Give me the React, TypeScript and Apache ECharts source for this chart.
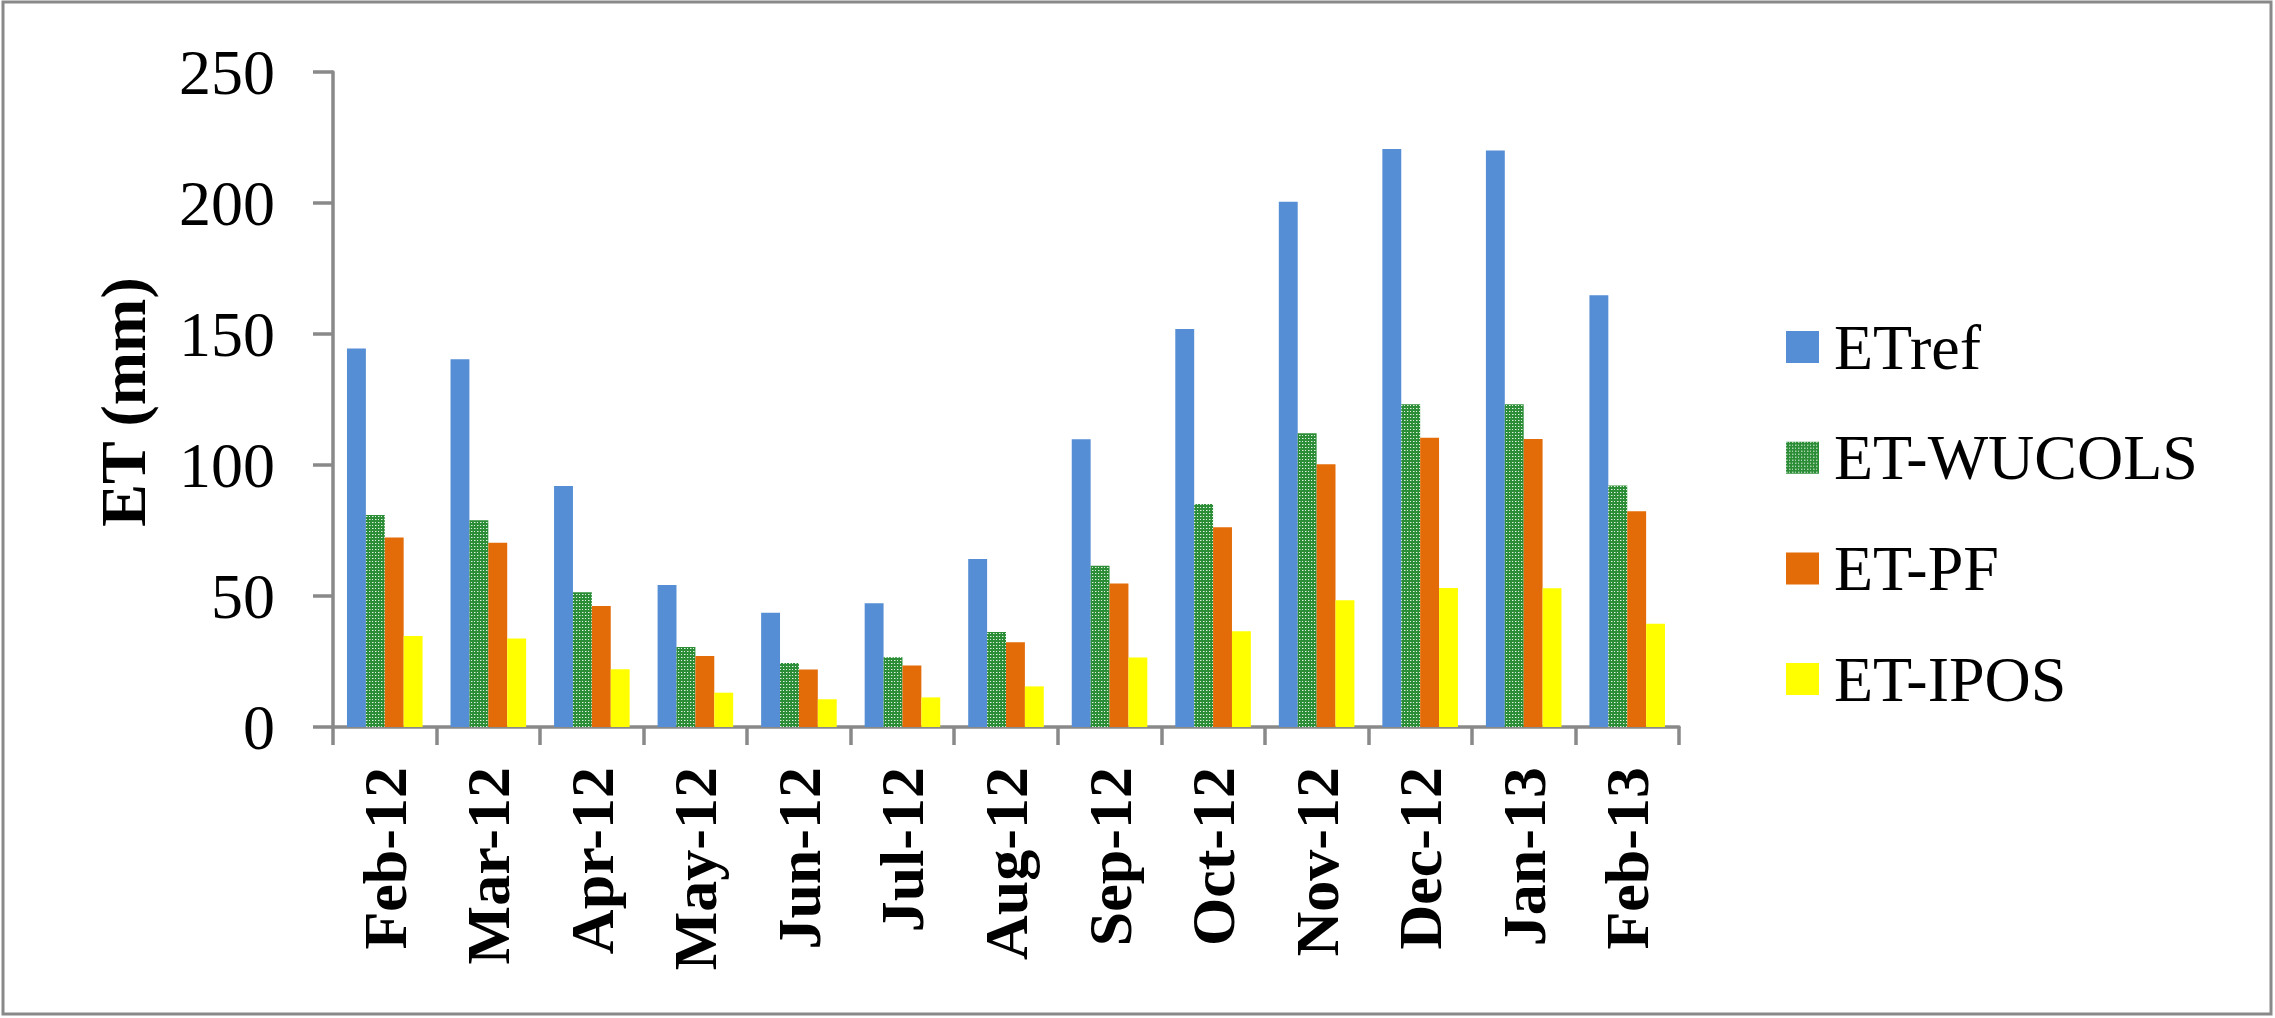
import React, { useEffect, useRef } from "react";
import * as echarts from "echarts";

const categories = ["Feb-12", "Mar-12", "Apr-12", "May-12", "Jun-12", "Jul-12", "Aug-12", "Sep-12", "Oct-12", "Nov-12", "Dec-12", "Jan-13", "Feb-13"];
const seriesNames = ["ETref", "ET-WUCOLS", "ET-PF", "ET-IPOS"];
const etRef = [144.5, 140.4, 92.0, 54.2, 43.6, 47.2, 64.1, 109.8, 151.9, 200.5, 220.6, 220.0, 164.8];
const etWucols = [80.9, 78.9, 51.4, 30.5, 24.4, 26.6, 36.3, 61.5, 85.1, 112.1, 123.2, 123.2, 92.2];
const etPf = [72.3, 70.3, 46.2, 27.1, 21.9, 23.5, 32.3, 54.8, 76.2, 100.3, 110.4, 109.9, 82.3];
const etIpos = [34.7, 33.8, 22.0, 13.1, 10.6, 11.3, 15.5, 26.5, 36.5, 48.4, 53.1, 53.0, 39.4];
const yTicks = { min: 0, max: 250, interval: 50 };

const FONT = "'Liberation Serif', 'Times New Roman', serif";
const AXIS_GRAY = "#898989";

function makePattern() {
  const c = document.createElement("canvas");
  c.width = 6;
  c.height = 6;
  const ctx = c.getContext("2d")!;
  ctx.fillStyle = "#2b8d36";
  ctx.fillRect(0, 0, 6, 6);
  ctx.fillStyle = "rgba(255,255,255,0.85)";
  ctx.fillRect(0, 0, 1, 1);
  ctx.fillRect(3, 0, 1, 1);
  ctx.fillRect(0, 3, 1, 1);
  ctx.fillRect(3, 3, 1, 1);
  ctx.fillStyle = "rgba(255,255,255,0.45)";
  ctx.fillRect(1, 0, 1, 1);
  ctx.fillRect(4, 3, 1, 1);
  return c;
}

export default function App() {
  const ref = useRef<HTMLDivElement>(null);
  useEffect(() => {
    document.body.style.margin = "0";
    const chart = echarts.init(ref.current!, null, { renderer: "svg" });
    const pattern = makePattern();
    const colors: any[] = ["#558ed5", { image: pattern, repeat: "repeat" }, "#e36c09", "#ffff00"];
    const data = [etRef, etWucols, etPf, etIpos];
    chart.setOption({
      animation: false,
      backgroundColor: "#ffffff",
      grid: { left: 333, top: 72, right: 596, bottom: 291, containLabel: false },
      legend: {
        orient: "vertical",
        left: 1781,
        top: 310,
        itemWidth: 33,
        itemHeight: 32,
        itemGap: 46.7,
        icon: "rect",
        textStyle: { fontFamily: FONT, fontSize: 64, color: "#000", lineHeight: 64, padding: [0, 0, 0, 10] },
        data: seriesNames,
      },
      xAxis: {
        type: "category",
        data: categories,
        axisLine: { show: true, lineStyle: { color: AXIS_GRAY, width: 3.5 } },
        axisTick: { show: true, length: 18, lineStyle: { color: AXIS_GRAY, width: 3.5 } },
        axisLabel: {
          rotate: 90,
          margin: 40,
          interval: 0,
          fontFamily: FONT,
          fontWeight: "bold",
          fontSize: 62,
          color: "#000",
        },
        splitLine: { show: false },
      },
      yAxis: {
        type: "value",
        min: yTicks.min,
        max: yTicks.max,
        interval: yTicks.interval,
        axisLine: { show: true, lineStyle: { color: AXIS_GRAY, width: 3.5 } },
        axisTick: { show: true, length: 20, lineStyle: { color: AXIS_GRAY, width: 3.5 } },
        axisLabel: { margin: 58, fontFamily: FONT, fontSize: 64, color: "#000" },
        splitLine: { show: false },
      },
      series: seriesNames.map((name, i) => ({
        name,
        type: "bar",
        data: data[i],
        barGap: "0%",
        barCategoryGap: "27%",
        itemStyle: { color: colors[i] },
      })),
      graphic: [
        {
          type: "rect",
          shape: { x: 3, y: 2, width: 2268, height: 1012 },
          style: { fill: "none", stroke: AXIS_GRAY, lineWidth: 3 },
          silent: true,
        },
        {
          type: "text",
          x: 123,
          y: 402,
          rotation: Math.PI / 2,
          style: {
            text: "ET (mm)",
            fontFamily: FONT,
            fontWeight: "bold",
            fontSize: 64,
            fill: "#000",
            align: "center",
            verticalAlign: "middle",
          },
        },
      ],
    });
    return () => chart.dispose();
  }, []);
  return <div ref={ref} style={{ width: 2275, height: 1018 }} />;
}
